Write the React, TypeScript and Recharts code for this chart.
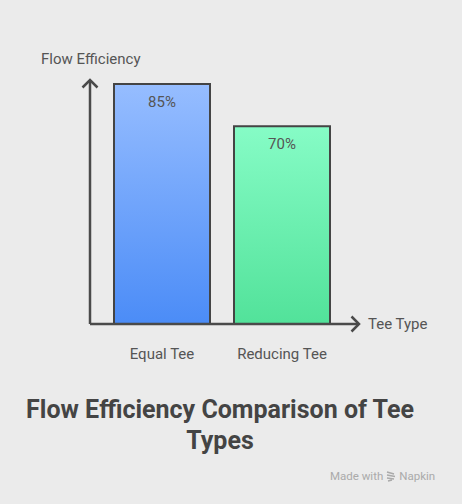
import React from "react";
import { BarChart, Bar, XAxis, YAxis, Cell, LabelList } from "recharts";

const categories = ["Equal Tee", "Reducing Tee"];
const efficiency = [85, 70];
const valueLabels = ["85%", "70%"];
const gradients = [
  { id: "gEqual", top: "#96bdff", bottom: "#4b8cf7" },
  { id: "gReducing", top: "#86fcc6", bottom: "#52e29a" },
];

const data = categories.map((c, i) => ({ name: c, value: efficiency[i], label: valueLabels[i] }));

const FONT = "Roboto, 'Noto Sans', sans-serif";
const AXIS = "#4a4a4a";

const CategoryTick = (props: any) => {
  const { x, y, payload } = props;
  return (
    <text x={x} y={y + 22} textAnchor="middle" dominantBaseline="central" fill="#555" fontSize={15} fontFamily={FONT}>
      {payload.value}
    </text>
  );
};

const ValueLabel = (props: any) => {
  const { x, y, width, index } = props;
  return (
    <text x={x + width / 2} y={y + 18} textAnchor="middle" dominantBaseline="central" fill="#555" fontSize={15} fontFamily={FONT}>
      {valueLabels[index]}
    </text>
  );
};

export default function App() {
  return (
    <div style={{ position: "absolute", left: 0, top: 0, width: 462, height: 504, background: "#ebebeb", fontFamily: FONT, overflow: "hidden" }}>
      <BarChart width={462} height={504} data={data} margin={{ top: 80, left: 60, right: 103, bottom: 150 }}>
        <defs>
          {gradients.map((g) => (
            <linearGradient key={g.id} id={g.id} x1="0" y1="0" x2="0" y2="1">
              <stop offset="0%" stopColor={g.top} />
              <stop offset="100%" stopColor={g.bottom} />
            </linearGradient>
          ))}
          <marker id="arrowHead" markerUnits="userSpaceOnUse" markerWidth="14" markerHeight="18" refX="10" refY="8" orient="auto-start-reverse" style={{ overflow: "visible" }}>
            <path d="M2.5,0.5 L10,8 L2.5,15.5" fill="none" stroke={AXIS} strokeWidth={2.5} />
          </marker>
        </defs>
        <XAxis
          dataKey="name"
          height={30}
          padding={{ left: 12, right: 17 }}
          tickLine={false}
          tick={<CategoryTick />}
          axisLine={{ stroke: AXIS, strokeWidth: 2.5, markerEnd: "url(#arrowHead)" } as any}
        />
        <YAxis
          width={30}
          domain={[0, 86.4]}
          tick={false}
          tickLine={false}
          axisLine={{ stroke: AXIS, strokeWidth: 2.5, markerStart: "url(#arrowHead)" } as any}
        />
        <Bar dataKey="value" barSize={96} stroke="#444" strokeWidth={2} isAnimationActive={false}>
          {data.map((d, i) => (
            <Cell key={d.name} fill={`url(#${gradients[i].id})`} />
          ))}
          <LabelList dataKey="label" content={<ValueLabel />} />
        </Bar>
      </BarChart>
      <div style={{ position: "absolute", left: 41, top: 50, fontSize: 15, color: "#555", lineHeight: "18px" }}>Flow Efficiency</div>
      <div style={{ position: "absolute", left: 368, top: 315, fontSize: 15, color: "#555", lineHeight: "18px" }}>Tee Type</div>
      <div style={{ position: "absolute", left: 20, top: 394, width: 400, textAlign: "center", fontSize: 25, fontWeight: 700, color: "#444", lineHeight: "31px" }}>
        Flow Efficiency Comparison of Tee Types
      </div>
      <div style={{ position: "absolute", left: 330, top: 469, fontSize: 11.5, color: "#aaa", lineHeight: "14px", display: "flex", alignItems: "center", gap: 3 }}>
        <span>Made with</span>
        <svg width="10" height="11" viewBox="0 0 10 11">
          <path d="M1,1 L8,3 M1,4 L9,5.5 M1,7 L8,8 M2,10 L6,9" stroke="#aaa" strokeWidth={1.4} fill="none" />
        </svg>
        <span>Napkin</span>
      </div>
    </div>
  );
}
